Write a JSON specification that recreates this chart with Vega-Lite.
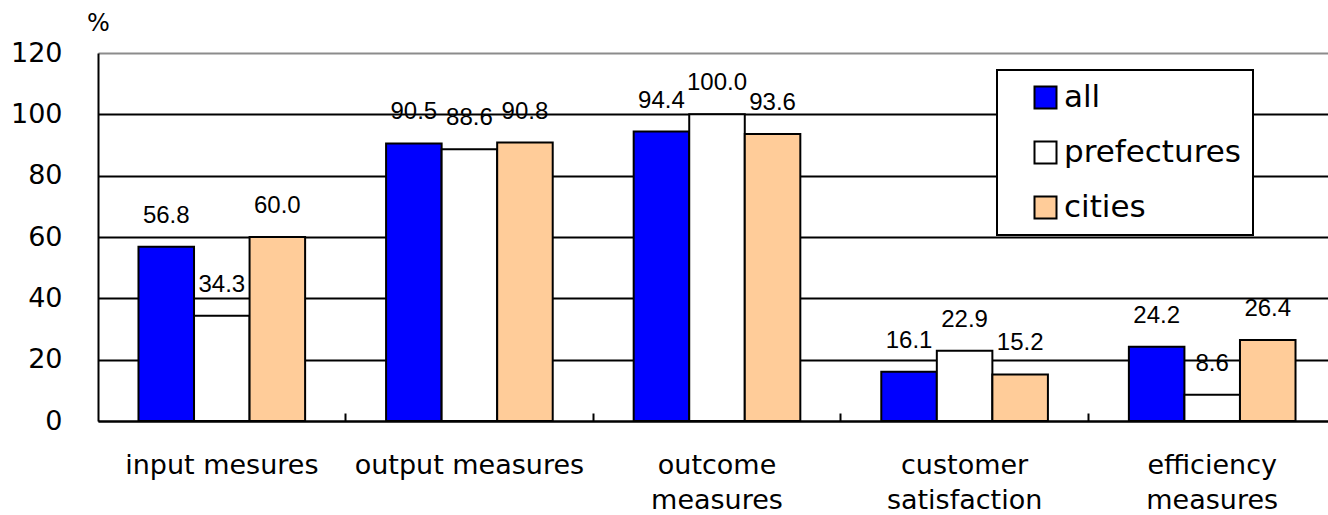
{
  "$schema": "https://vega.github.io/schema/vega-lite/v6.json",
  "width": 1238,
  "height": 368,
  "autosize": {"type": "none"},
  "padding": {"left": 98, "top": 53, "right": 0, "bottom": 94},
  "background": "white",
  "config": {
    "view": {"stroke": null},
    "font": "DejaVu Sans",
    "legend": {"strokeWidth": 2}
  },
  "data": {
    "values": [
      {"measure": "input mesures", "group": "all", "pct": 56.8},
      {"measure": "input mesures", "group": "prefectures", "pct": 34.3},
      {"measure": "input mesures", "group": "cities", "pct": 60.0},
      {"measure": "output measures", "group": "all", "pct": 90.5},
      {"measure": "output measures", "group": "prefectures", "pct": 88.6},
      {"measure": "output measures", "group": "cities", "pct": 90.8},
      {"measure": "outcome measures", "group": "all", "pct": 94.4},
      {"measure": "outcome measures", "group": "prefectures", "pct": 100.0},
      {"measure": "outcome measures", "group": "cities", "pct": 93.6},
      {"measure": "customer satisfaction", "group": "all", "pct": 16.1},
      {"measure": "customer satisfaction", "group": "prefectures", "pct": 22.9},
      {"measure": "customer satisfaction", "group": "cities", "pct": 15.2},
      {"measure": "efficiency measures", "group": "all", "pct": 24.2},
      {"measure": "efficiency measures", "group": "prefectures", "pct": 8.6},
      {"measure": "efficiency measures", "group": "cities", "pct": 26.4}
    ]
  },
  "encoding": {
    "x": {
      "field": "measure",
      "type": "nominal",
      "sort": ["input mesures", "output measures", "outcome measures", "customer satisfaction", "efficiency measures"],
      "scale": {"paddingInner": 0.327, "paddingOuter": 0.1635},
      "axis": {
        "title": null,
        "labelAngle": 0,
        "labelFontSize": 27,
        "labelColor": "black",
        "labelLimit": 400,
        "labelLineHeight": 35,
        "labelPadding": 39,
        "labelExpr": "indexof(['outcome measures', 'customer satisfaction', 'efficiency measures'], datum.value) >= 0 ? split(datum.value, ' ') : datum.value",
        "bandPosition": 1.2432,
        "tickExtra": false,
        "tickSize": -8,
        "tickWidth": 2,
        "tickColor": "black",
        "domainColor": "black",
        "domainWidth": 2,
        "grid": false
      }
    },
    "xOffset": {
      "field": "group",
      "type": "nominal",
      "sort": ["all", "prefectures", "cities"],
      "scale": {"paddingInner": 0, "paddingOuter": 0}
    },
    "y": {
      "field": "pct",
      "type": "quantitative",
      "scale": {"domain": [0, 120], "nice": false},
      "axis": {
        "values": [0, 20, 40, 60, 80, 100, 120],
        "title": "%",
        "titleAngle": 0,
        "titleX": 0,
        "titleY": -30,
        "titleAlign": "center",
        "titleBaseline": "middle",
        "titleFontSize": 24,
        "titleFontWeight": "normal",
        "titleColor": "black",
        "labelFontSize": 27,
        "labelColor": "black",
        "labelPadding": 36,
        "ticks": false,
        "domainColor": "black",
        "domainWidth": 2,
        "grid": true,
        "gridColor": {"condition": {"test": "datum.value == 120", "value": "#8c8c8c"}, "value": "black"},
        "gridWidth": 2,
        "gridOpacity": 1
      }
    }
  },
  "layer": [
    {
      "mark": {"type": "bar", "stroke": "black", "strokeWidth": 2},
      "encoding": {
        "fill": {
          "field": "group",
          "type": "nominal",
          "sort": ["all", "prefectures", "cities"],
          "scale": {"domain": ["all", "prefectures", "cities"], "range": ["#0000ff", "#ffffff", "#ffcc99"]},
          "legend": {
            "title": null,
            "orient": "none",
            "legendX": 899,
            "legendY": 17,
            "fillColor": "white",
            "strokeColor": "black",
            "padding": 12,
            "symbolOffset": 21,
            "symbolType": "square",
            "symbolSize": 484,
            "symbolStrokeColor": "black",
            "symbolStrokeWidth": 2,
            "labelOffset": 3,
            "labelFontSize": 31,
            "labelColor": "black",
            "labelLimit": 400,
            "rowPadding": 23
          }
        }
      }
    },
    {
      "mark": {"type": "text", "font": "Liberation Sans", "fontSize": 24, "color": "black", "baseline": "middle", "align": "center", "dy": -31},
      "encoding": {
        "text": {"field": "pct", "type": "quantitative", "format": ".1f"}
      }
    }
  ]
}
